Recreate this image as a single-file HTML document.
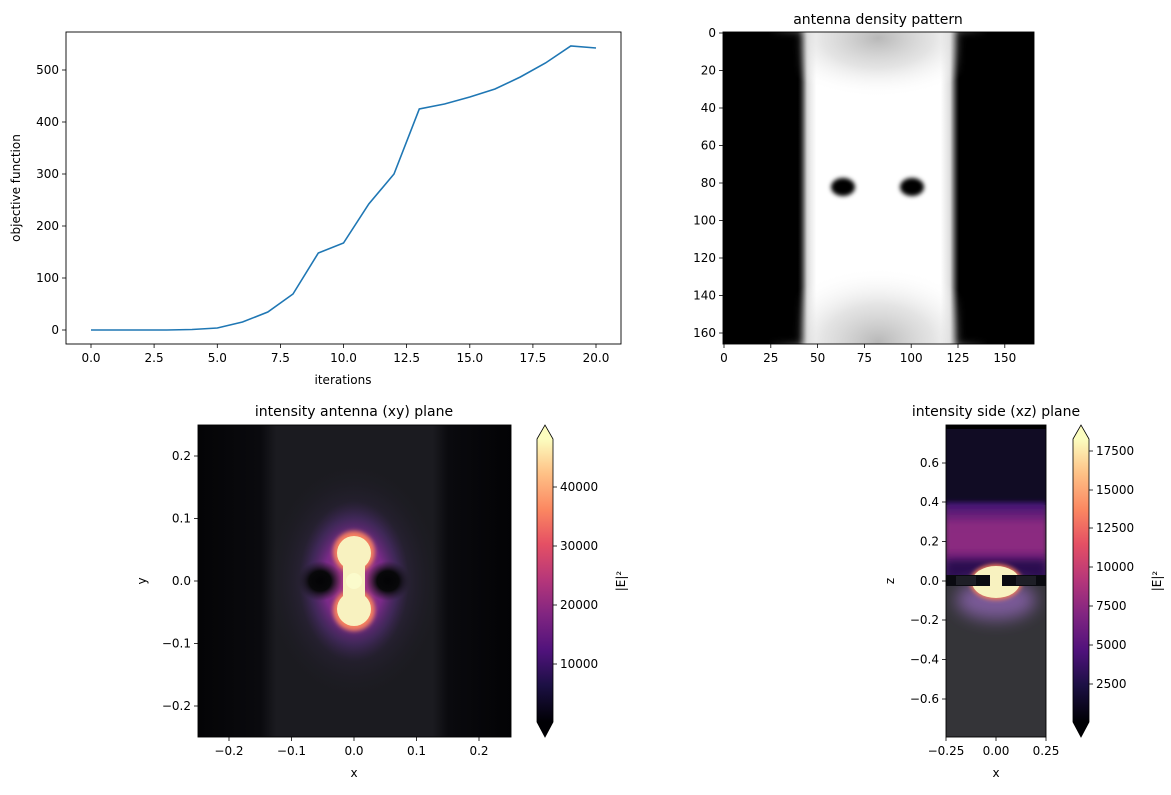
<!DOCTYPE html>
<html><head><style>
body{margin:0;background:#fff;}
svg text{font-family:"DejaVu Sans","Liberation Sans",sans-serif;font-size:12px;fill:#000;}
</style></head><body>
<svg width="1171" height="790" viewBox="0 0 1171 790" xmlns="http://www.w3.org/2000/svg">
<defs>
<linearGradient id="magma" x1="0" y1="1" x2="0" y2="0">
<stop offset="0" stop-color="#000004"/><stop offset="0.13" stop-color="#1c1044"/><stop offset="0.25" stop-color="#4f127b"/><stop offset="0.38" stop-color="#812581"/><stop offset="0.5" stop-color="#b5367a"/><stop offset="0.63" stop-color="#e55064"/><stop offset="0.75" stop-color="#fb8761"/><stop offset="0.88" stop-color="#fec287"/><stop offset="1" stop-color="#fcfdbf"/>
</linearGradient>
<linearGradient id="dens" x1="0" x2="1">
<stop offset="0" stop-color="#000"/><stop offset="0.24" stop-color="#000"/><stop offset="0.27" stop-color="#ddd"/><stop offset="0.3" stop-color="#fff"/><stop offset="0.7" stop-color="#fff"/><stop offset="0.73" stop-color="#ddd"/><stop offset="0.76" stop-color="#000"/><stop offset="1" stop-color="#000"/>
</linearGradient>
<linearGradient id="xybg" x1="0" x2="1">
<stop offset="0" stop-color="#040406"/><stop offset="0.2" stop-color="#0a0a0e"/><stop offset="0.25" stop-color="#1b1b20"/><stop offset="0.75" stop-color="#1b1b20"/><stop offset="0.8" stop-color="#0a0a0e"/><stop offset="1" stop-color="#030305"/>
</linearGradient>
<linearGradient id="xzband" x1="0" y1="0" x2="0" y2="1">
<stop offset="0" stop-color="#3a1270"/><stop offset="0.3" stop-color="#8a2a80"/><stop offset="0.6" stop-color="#8c2a80"/><stop offset="1" stop-color="#3a0f6a"/>
</linearGradient>
<radialGradient id="gtop" cx="0.5" cy="0.5" r="0.5"><stop offset="0" stop-color="#b8b8b8"/><stop offset="0.5" stop-color="#d8d8d8" stop-opacity="0.7"/><stop offset="1" stop-color="#fff" stop-opacity="0"/></radialGradient>
<radialGradient id="glow" cx="0.5" cy="0.5" r="0.5"><stop offset="0" stop-color="#5a2a80"/><stop offset="0.5" stop-color="#3a2a50"/><stop offset="1" stop-color="#1b1b20" stop-opacity="0"/></radialGradient>
<radialGradient id="purp" cx="0.5" cy="0.5" r="0.5"><stop offset="0" stop-color="#b03a80"/><stop offset="0.55" stop-color="#7a2a88"/><stop offset="0.8" stop-color="#4a2a68" stop-opacity="0.6"/><stop offset="1" stop-color="#3a2450" stop-opacity="0"/></radialGradient>
<radialGradient id="dark" cx="0.5" cy="0.5" r="0.5"><stop offset="0" stop-color="#030305"/><stop offset="0.5" stop-color="#08080a"/><stop offset="1" stop-color="#1b1b20" stop-opacity="0"/></radialGradient>
<filter id="b2" x="-50%" y="-50%" width="200%" height="200%"><feGaussianBlur stdDeviation="2"/></filter>
<filter id="b4" x="-50%" y="-50%" width="200%" height="200%"><feGaussianBlur stdDeviation="4"/></filter>
<filter id="b8" x="-100%" y="-100%" width="300%" height="300%"><feGaussianBlur stdDeviation="8"/></filter>
<clipPath id="c1"><rect x="723" y="32" width="311" height="312"/></clipPath>
<clipPath id="c2"><rect x="198" y="425" width="313" height="312"/></clipPath>
<clipPath id="c3"><rect x="946" y="425" width="100" height="312"/></clipPath>
</defs>

<!-- Top-left line plot -->
<rect x="66" y="32" width="555" height="312" fill="none" stroke="#000" stroke-width="0.9"/>
<polyline fill="none" stroke="#1f77b4" stroke-width="1.6" points="91,330 116.3,330 141.5,330 166.8,330 192,329.5 217.3,328 242.5,322 267.8,312 293,294 318.3,253 343.5,243 368.8,204 394,174 419.3,109 444.5,104 469.8,97 495,89 520.3,77 545.5,63 570.8,46 596,48"/>
<g stroke="#000" stroke-width="0.8">
<line x1="91" y1="344" x2="91" y2="348"/><line x1="154.1" y1="344" x2="154.1" y2="348"/><line x1="217.3" y1="344" x2="217.3" y2="348"/><line x1="280.4" y1="344" x2="280.4" y2="348"/><line x1="343.5" y1="344" x2="343.5" y2="348"/><line x1="406.6" y1="344" x2="406.6" y2="348"/><line x1="469.8" y1="344" x2="469.8" y2="348"/><line x1="532.9" y1="344" x2="532.9" y2="348"/><line x1="596" y1="344" x2="596" y2="348"/>
<line x1="62" y1="330" x2="66" y2="330"/><line x1="62" y1="278" x2="66" y2="278"/><line x1="62" y1="226" x2="66" y2="226"/><line x1="62" y1="174" x2="66" y2="174"/><line x1="62" y1="122" x2="66" y2="122"/><line x1="62" y1="70" x2="66" y2="70"/>
</g>
<g text-anchor="middle">
<text x="91" y="362">0.0</text><text x="154.1" y="362">2.5</text><text x="217.3" y="362">5.0</text><text x="280.4" y="362">7.5</text><text x="343.5" y="362">10.0</text><text x="406.6" y="362">12.5</text><text x="469.8" y="362">15.0</text><text x="532.9" y="362">17.5</text><text x="596" y="362">20.0</text>
<text x="343" y="384">iterations</text>
</g>
<g text-anchor="end">
<text x="59" y="334">0</text><text x="59" y="282">100</text><text x="59" y="230">200</text><text x="59" y="178">300</text><text x="59" y="126">400</text><text x="59" y="74">500</text>
</g>
<text transform="translate(20,188) rotate(-90)" text-anchor="middle">objective function</text>

<!-- Top-right density -->
<g clip-path="url(#c1)">
<rect x="723" y="32" width="311" height="312" fill="url(#dens)"/>
<ellipse cx="878" cy="38" rx="110" ry="60" fill="url(#gtop)"/>
<ellipse cx="878" cy="342" rx="110" ry="75" fill="url(#gtop)"/>
<rect x="723" y="32" width="78" height="312" fill="#000" filter="url(#b4)"/>
<rect x="958" y="32" width="76" height="312" fill="#000" filter="url(#b4)"/>
<ellipse cx="843" cy="187" rx="12" ry="9" fill="#000" filter="url(#b2)"/>
<ellipse cx="912" cy="187" rx="12" ry="9" fill="#000" filter="url(#b2)"/>
</g>
<rect x="723" y="32" width="311" height="312" fill="none" stroke="#000" stroke-width="0.9"/>
<text x="878" y="24" text-anchor="middle" style="font-size:14px">antenna density pattern</text>
<g stroke="#000" stroke-width="0.8">
<line x1="724" y1="344" x2="724" y2="348"/><line x1="770.8" y1="344" x2="770.8" y2="348"/><line x1="817.6" y1="344" x2="817.6" y2="348"/><line x1="864.4" y1="344" x2="864.4" y2="348"/><line x1="911.2" y1="344" x2="911.2" y2="348"/><line x1="958" y1="344" x2="958" y2="348"/><line x1="1004.8" y1="344" x2="1004.8" y2="348"/>
<line x1="719" y1="33" x2="723" y2="33"/><line x1="719" y1="70.5" x2="723" y2="70.5"/><line x1="719" y1="108" x2="723" y2="108"/><line x1="719" y1="145.5" x2="723" y2="145.5"/><line x1="719" y1="183" x2="723" y2="183"/><line x1="719" y1="220.5" x2="723" y2="220.5"/><line x1="719" y1="258" x2="723" y2="258"/><line x1="719" y1="295.5" x2="723" y2="295.5"/><line x1="719" y1="333" x2="723" y2="333"/>
</g>
<g text-anchor="middle">
<text x="724" y="362">0</text><text x="770.8" y="362">25</text><text x="817.6" y="362">50</text><text x="864.4" y="362">75</text><text x="911.2" y="362">100</text><text x="958" y="362">125</text><text x="1004.8" y="362">150</text>
</g>
<g text-anchor="end">
<text x="716" y="37">0</text><text x="716" y="74.5">20</text><text x="716" y="112">40</text><text x="716" y="149.5">60</text><text x="716" y="187">80</text><text x="716" y="224.5">100</text><text x="716" y="262">120</text><text x="716" y="299.5">140</text><text x="716" y="337">160</text>
</g>

<!-- Bottom-left xy intensity -->
<g clip-path="url(#c2)">
<rect x="198" y="425" width="313" height="312" fill="url(#xybg)"/>
<ellipse cx="354" cy="581" rx="90" ry="120" fill="url(#glow)" opacity="0.6"/>
<ellipse cx="354" cy="581" rx="55" ry="80" fill="url(#purp)"/>
<ellipse cx="320" cy="581" rx="22" ry="20" fill="url(#dark)"/>
<ellipse cx="388" cy="581" rx="22" ry="20" fill="url(#dark)"/>
<g filter="url(#b2)" fill="#f5805e">
<circle cx="354" cy="552" r="21"/><circle cx="354" cy="610" r="21"/>
</g>
<circle cx="354" cy="553" r="17" fill="#f8f2c0"/>
<circle cx="354" cy="609" r="17" fill="#f8f2c0"/>
<rect x="343" y="553" width="22" height="56" fill="#f8f2c0"/>
<circle cx="354" cy="581" r="8" fill="#fbfbcc"/>
</g>
<rect x="198" y="425" width="313" height="312" fill="none" stroke="#000" stroke-width="0.9"/>
<text x="354" y="416" text-anchor="middle" style="font-size:14px">intensity antenna (xy) plane</text>
<g stroke="#000" stroke-width="0.8">
<line x1="229" y1="737" x2="229" y2="741"/><line x1="291.5" y1="737" x2="291.5" y2="741"/><line x1="354" y1="737" x2="354" y2="741"/><line x1="416.5" y1="737" x2="416.5" y2="741"/><line x1="479" y1="737" x2="479" y2="741"/>
<line x1="194" y1="456" x2="198" y2="456"/><line x1="194" y1="518.5" x2="198" y2="518.5"/><line x1="194" y1="581" x2="198" y2="581"/><line x1="194" y1="643.5" x2="198" y2="643.5"/><line x1="194" y1="706" x2="198" y2="706"/>
</g>
<g text-anchor="middle">
<text x="229" y="755">−0.2</text><text x="291.5" y="755">−0.1</text><text x="354" y="755">0.0</text><text x="416.5" y="755">0.1</text><text x="479" y="755">0.2</text>
<text x="354" y="777">x</text>
</g>
<g text-anchor="end">
<text x="191" y="460">0.2</text><text x="191" y="522.5">0.1</text><text x="191" y="585">0.0</text><text x="191" y="647.5">−0.1</text><text x="191" y="710">−0.2</text>
</g>
<text transform="translate(146,581) rotate(-90)" text-anchor="middle">y</text>
<!-- colorbar 1 -->
<rect x="537" y="439" width="16" height="283" fill="url(#magma)"/>
<path d="M537,439 L545,425 L553,439 Z" fill="#fcfdbf"/>
<path d="M537,722 L545,737 L553,722 Z" fill="#000004"/>
<path d="M537,439 L545,425 L553,439 L553,722 L545,737 L537,722 Z" fill="none" stroke="#000" stroke-width="0.8"/>
<g stroke="#000" stroke-width="0.8">
<line x1="553" y1="664" x2="557" y2="664"/><line x1="553" y1="605" x2="557" y2="605"/><line x1="553" y1="546" x2="557" y2="546"/><line x1="553" y1="487" x2="557" y2="487"/>
</g>
<text x="560" y="668">10000</text><text x="560" y="609">20000</text><text x="560" y="550">30000</text><text x="560" y="491">40000</text>
<text transform="translate(625,581) rotate(-90)" text-anchor="middle">|E|²</text>

<!-- Bottom-right xz intensity -->
<g clip-path="url(#c3)">
<rect x="946" y="425" width="100" height="312" fill="#343438"/>
<rect x="946" y="425" width="100" height="80" fill="#110c24"/>
<rect x="946" y="425" width="100" height="4" fill="#000"/>
<rect x="946" y="502" width="100" height="76" fill="url(#xzband)" filter="url(#b2)"/>
<rect x="946" y="560" width="100" height="18" fill="#2a0e50" filter="url(#b4)"/>
<ellipse cx="996" cy="600" rx="40" ry="20" fill="#7a5a98" filter="url(#b8)"/>
<ellipse cx="996" cy="582" rx="26" ry="18" fill="#f07a5c" filter="url(#b2)"/>
<ellipse cx="996" cy="582" rx="24" ry="16" fill="#f8f2c0"/>
<rect x="946" y="575" width="100" height="11" fill="#0a0a10"/>
<rect x="956" y="576" width="20" height="9" fill="#1e1e26"/>
<rect x="1016" y="576" width="20" height="9" fill="#1e1e26"/>
<rect x="990" y="575" width="12" height="11" fill="#f8f2c0"/>
</g>
<rect x="946" y="425" width="100" height="312" fill="none" stroke="#000" stroke-width="0.9"/>
<text x="996" y="416" text-anchor="middle" style="font-size:14px">intensity side (xz) plane</text>
<g stroke="#000" stroke-width="0.8">
<line x1="946" y1="737" x2="946" y2="741"/><line x1="996" y1="737" x2="996" y2="741"/><line x1="1046" y1="737" x2="1046" y2="741"/>
<line x1="942" y1="463" x2="946" y2="463"/><line x1="942" y1="502" x2="946" y2="502"/><line x1="942" y1="541.5" x2="946" y2="541.5"/><line x1="942" y1="581" x2="946" y2="581"/><line x1="942" y1="620" x2="946" y2="620"/><line x1="942" y1="659.5" x2="946" y2="659.5"/><line x1="942" y1="699" x2="946" y2="699"/>
</g>
<g text-anchor="middle">
<text x="946" y="755">−0.25</text><text x="996" y="755">0.00</text><text x="1046" y="755">0.25</text>
<text x="996" y="777">x</text>
</g>
<g text-anchor="end">
<text x="939" y="467">0.6</text><text x="939" y="506">0.4</text><text x="939" y="545.5">0.2</text><text x="939" y="585">0.0</text><text x="939" y="624">−0.2</text><text x="939" y="663.5">−0.4</text><text x="939" y="703">−0.6</text>
</g>
<text transform="translate(894,581) rotate(-90)" text-anchor="middle">z</text>
<!-- colorbar 2 -->
<rect x="1073" y="439" width="16" height="283" fill="url(#magma)"/>
<path d="M1073,439 L1081,425 L1089,439 Z" fill="#fcfdbf"/>
<path d="M1073,722 L1081,737 L1089,722 Z" fill="#000004"/>
<path d="M1073,439 L1081,425 L1089,439 L1089,722 L1081,737 L1073,722 Z" fill="none" stroke="#000" stroke-width="0.8"/>
<g stroke="#000" stroke-width="0.8">
<line x1="1089" y1="684" x2="1093" y2="684"/><line x1="1089" y1="645" x2="1093" y2="645"/><line x1="1089" y1="606" x2="1093" y2="606"/><line x1="1089" y1="567" x2="1093" y2="567"/><line x1="1089" y1="528" x2="1093" y2="528"/><line x1="1089" y1="490" x2="1093" y2="490"/><line x1="1089" y1="451" x2="1093" y2="451"/>
</g>
<text x="1096" y="688">2500</text><text x="1096" y="649">5000</text><text x="1096" y="610">7500</text><text x="1096" y="571">10000</text><text x="1096" y="532">12500</text><text x="1096" y="494">15000</text><text x="1096" y="455">17500</text>
<text transform="translate(1161,581) rotate(-90)" text-anchor="middle">|E|²</text>
</svg>
</body></html>
